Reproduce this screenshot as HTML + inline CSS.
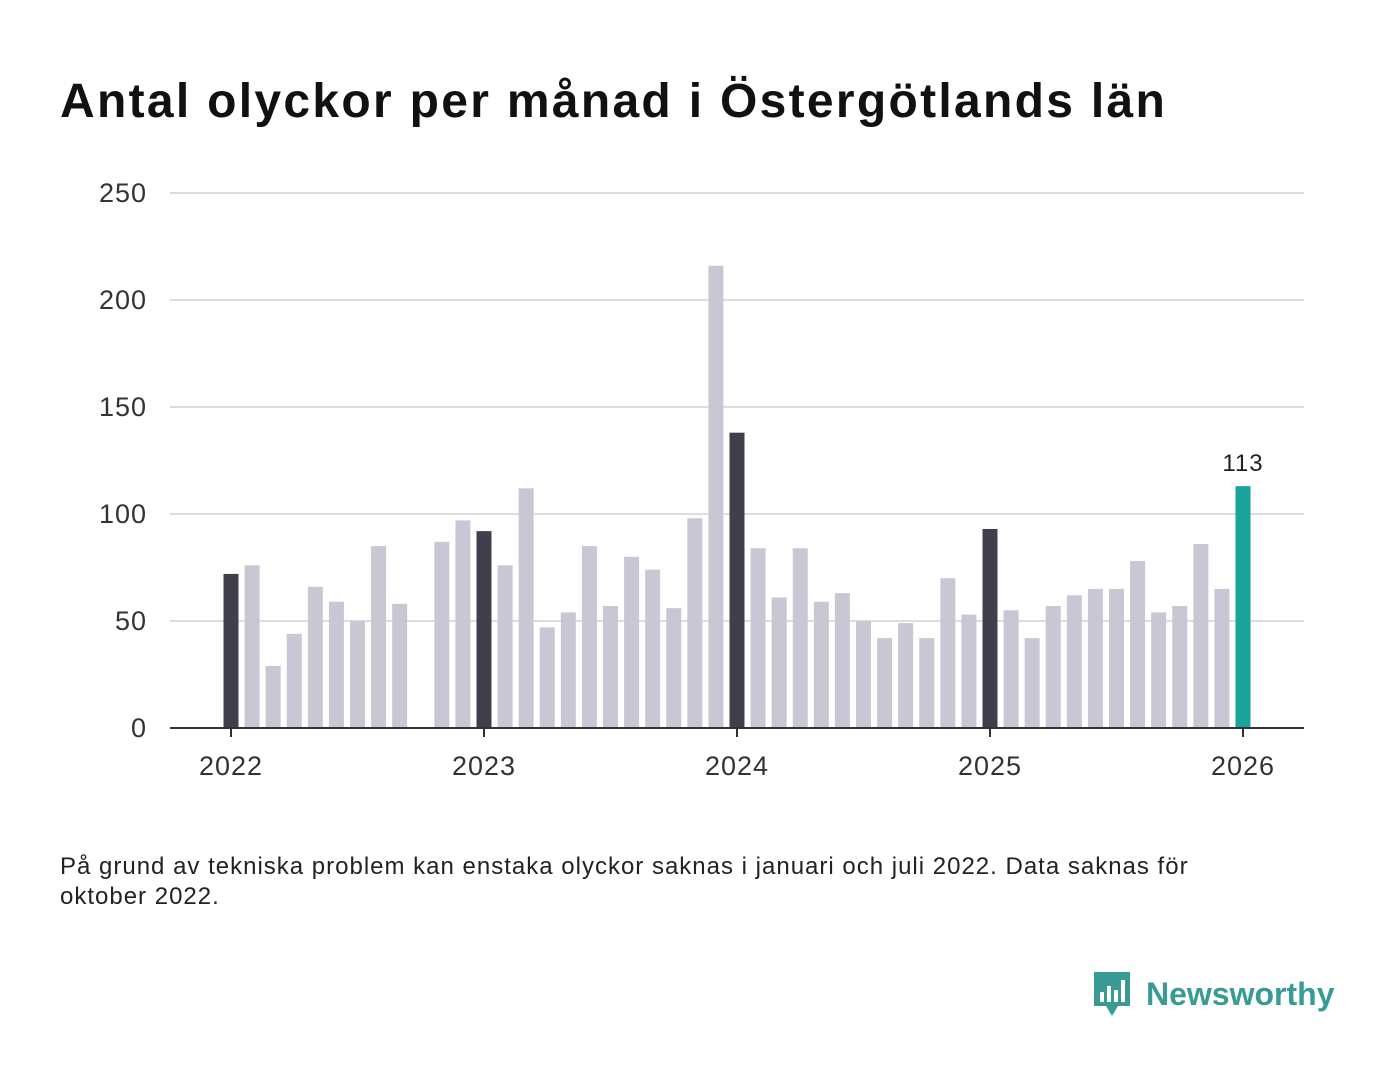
<!DOCTYPE html>
<html><head><meta charset="utf-8"><style>
body{margin:0;background:#fff;font-family:"Liberation Sans",sans-serif;}
#wrap{position:relative;width:1400px;height:1080px;overflow:hidden;}
h1{position:absolute;left:60px;top:74px;margin:0;font-size:48px;font-weight:bold;color:#111;letter-spacing:2.3px;white-space:nowrap;}
.note{position:absolute;left:60px;top:852px;font-size:24px;color:#222;line-height:30px;width:1200px;letter-spacing:1px;}
.logo{position:absolute;left:1092px;top:970px;display:flex;align-items:center;}
.logo span{font-size:32px;font-weight:bold;color:#3a9a94;margin-left:14px;}
</style></head><body>
<div id="wrap">
<h1>Antal olyckor per månad i Östergötlands län</h1>
<svg id="chart" width="1400" height="820" style="position:absolute;left:0;top:0"></svg>
<div class="note">På grund av tekniska problem kan enstaka olyckor saknas i januari och juli 2022. Data saknas för oktober 2022.</div>
<div class="logo">
<svg width="40" height="48" viewBox="0 0 40 48"><path d="M2 2h36v34H26l-6 10-6-10H2z" fill="#3a9a94"/><rect x="8" y="22" width="4" height="10" fill="#fff"/><rect x="15" y="16" width="4" height="16" fill="#fff"/><rect x="22" y="20" width="4" height="12" fill="#fff"/><rect x="29" y="10" width="4" height="22" fill="#fff"/></svg>
<span>Newsworthy</span></div>
</div>
<script>
const values=[72,76,29,44,66,59,50,85,58,null,87,97,92,76,112,47,54,85,57,80,74,56,98,216,138,84,61,84,59,63,50,42,49,42,70,53,93,55,42,57,62,65,65,78,54,57,86,65,113];
const yTicks=[0,50,100,150,200,250];
const xTickLabels=["2022","2023","2024","2025","2026"];
const NS="http://www.w3.org/2000/svg";
const svg=document.getElementById('chart');
const y0=728,pxPer=535/250,x0=231,step=1012/48,bw=15;
const ys=v=>y0-v*pxPer, xs=i=>x0+i*step;
function mk(t,a){const e=document.createElementNS(NS,t);for(const k in a)e.setAttribute(k,a[k]);svg.appendChild(e);return e;}
yTicks.forEach(t=>{
 if(t>0){const l=mk('line',{x1:170,x2:1304,y1:ys(t),y2:ys(t),stroke:'#dddddd','stroke-width':2});
 
 }
 const tx=mk('text',{x:147,y:ys(t)+9,'text-anchor':'end','font-size':27,fill:'#333','font-family':'Liberation Sans','letter-spacing':1});
 tx.textContent=t;
 
 
});
values.forEach((v,i)=>{
 if(v==null)return;
 const last=i===values.length-1;
 const col=last?'#1aa39a':(i%12===0?'#40404c':'#c8c7d3');
 const r=mk('rect',{x:xs(i)-bw/2,y:ys(v),width:bw,height:v*pxPer,fill:col});
 
 
 if(last){const t=mk('text',{x:xs(i),y:ys(v)-15,'text-anchor':'middle','font-size':24,fill:'#222','font-family':'Liberation Sans','letter-spacing':1});t.textContent=v;
 
 }
});
const ax=mk('line',{x1:170,x2:1304,y1:y0,y2:y0,stroke:'#333','stroke-width':2});


xTickLabels.forEach((lab,k)=>{
 const x=xs(k*12);
 const tk=mk('line',{x1:x,x2:x,y1:y0,y2:y0+9,stroke:'#333','stroke-width':2});
 
 
 const t=mk('text',{x:x,y:775,'text-anchor':'middle','font-size':27,fill:'#333','font-family':'Liberation Sans','letter-spacing':1});
 t.textContent=lab;
 
 
});
</script>
</body></html>
